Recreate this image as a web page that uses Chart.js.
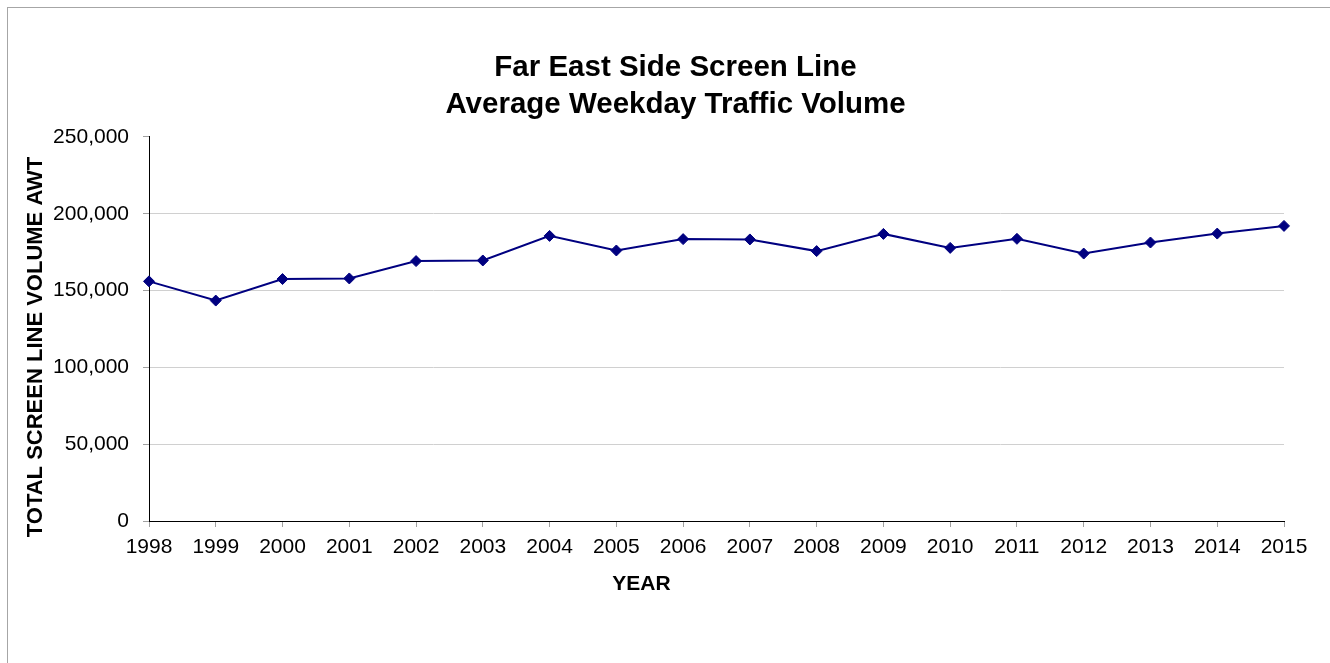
<!DOCTYPE html>
<html>
<head>
<meta charset="utf-8">
<script src="https://cdn.jsdelivr.net/npm/chart.js@4/dist/chart.umd.min.js"></script>
<style>
  html, body { margin: 0; padding: 0; background: #fff; overflow: hidden; }
  #frame {
    position: absolute; left: 7px; top: 7px;
    width: 1400px; height: 700px;
    border: 1px solid #a6a6a6;
  }
  #wrap { position: absolute; left: 0; top: 0; width: 1351px; height: 663px; }
</style>
</head>
<body>
<div id="frame"></div>
<div id="wrap"><canvas id="myChart"></canvas></div>
<script>
const years = ["1998", "1999", "2000", "2001", "2002", "2003", "2004", "2005", "2006",
  "2007", "2008", "2009", "2010", "2011", "2012", "2013", "2014", "2015"];
const volumes = [156000, 143500, 157500, 157900, 169200, 169600, 185600, 176100, 183500,
  183300, 175700, 186900, 177800, 183700, 174100, 181300, 187100, 192100];
const yTicks = [0, 50000, 100000, 150000, 200000, 250000];
const titleLines = ["Far East Side Screen Line", "Average Weekday Traffic Volume"];
const xTitle = "YEAR";
const yTitle = "TOTAL SCREEN LINE VOLUME AWT";

const FONT = "'Liberation Sans', Arial, sans-serif";
Chart.defaults.font.family = FONT;
Chart.defaults.color = "#000";

// axis titles sit off-centre in the original, so draw them here
const axisTitles = {
  id: "axisTitles",
  afterDraw: function (chart) {
    const a = chart.chartArea;
    const c = chart.ctx;
    c.save();
    c.fillStyle = "#000";
    c.textAlign = "center";
    c.textBaseline = "middle";
    c.font = "bold 21px " + FONT;
    c.fillText(xTitle, (a.left + a.right) / 2 - 75, a.bottom + 63);
    c.translate(36, (a.top + a.bottom) / 2 + 18);
    c.rotate(-Math.PI / 2);
    c.font = "bold 22px " + FONT;
    c.fillText(yTitle, 0, 0);
    c.restore();
  },
};

const ctx = document.getElementById("myChart").getContext("2d");
const myChart = new Chart(ctx, {
  type: "line",
  data: {
    labels: years,
    datasets: [
      {
        label: "AWT",
        data: volumes,
        borderColor: "#000080",
        backgroundColor: "#000080",
        borderWidth: 2,
        pointStyle: "rectRot",
        pointRadius: 5.5,
        pointBorderWidth: 1,
        tension: 0,
      },
    ],
  },
  options: {
    responsive: true,
    maintainAspectRatio: false,
    animation: false,
    layout: { padding: { top: 40, left: 0, right: 0, bottom: 62 } },
    plugins: {
      legend: { display: false },
      tooltip: { enabled: false },
      title: {
        display: true,
        text: titleLines,
        color: "#000",
        font: { size: 29.5, weight: "bold", lineHeight: 1.23 },
        padding: { top: 10, bottom: 14.4 },
      },
    },
    scales: {
      x: {
        offset: false,
        grid: { drawOnChartArea: false, tickLength: 6, tickColor: "#a0a0a0" },
        border: { color: "#000", width: 1 },
        ticks: { font: { size: 21 }, padding: 8, maxRotation: 0, autoSkip: false },
        afterFit: function (scale) {
          scale.height = 80;
          scale.paddingRight = 67;
        },
      },
      y: {
        min: 0,
        max: 250000,
        afterBuildTicks: function (scale) {
          scale.ticks = yTicks.map(function (v) { return { value: v }; });
        },
        grid: {
          color: function (c) {
            return c.tick && c.tick.value === 250000 ? "rgba(0,0,0,0)" : "#d0d0d0";
          },
          tickLength: 6,
          tickColor: "#a0a0a0",
        },
        border: { color: "#000", width: 1 },
        ticks: {
          font: { size: 21 },
          padding: 14,
          callback: function (v) { return Number(v).toLocaleString("en-US"); },
        },
        afterFit: function (scale) {
          scale.width = 149;
        },
      },
    },
  },
  plugins: [axisTitles],
});
</script>
</body>
</html>
